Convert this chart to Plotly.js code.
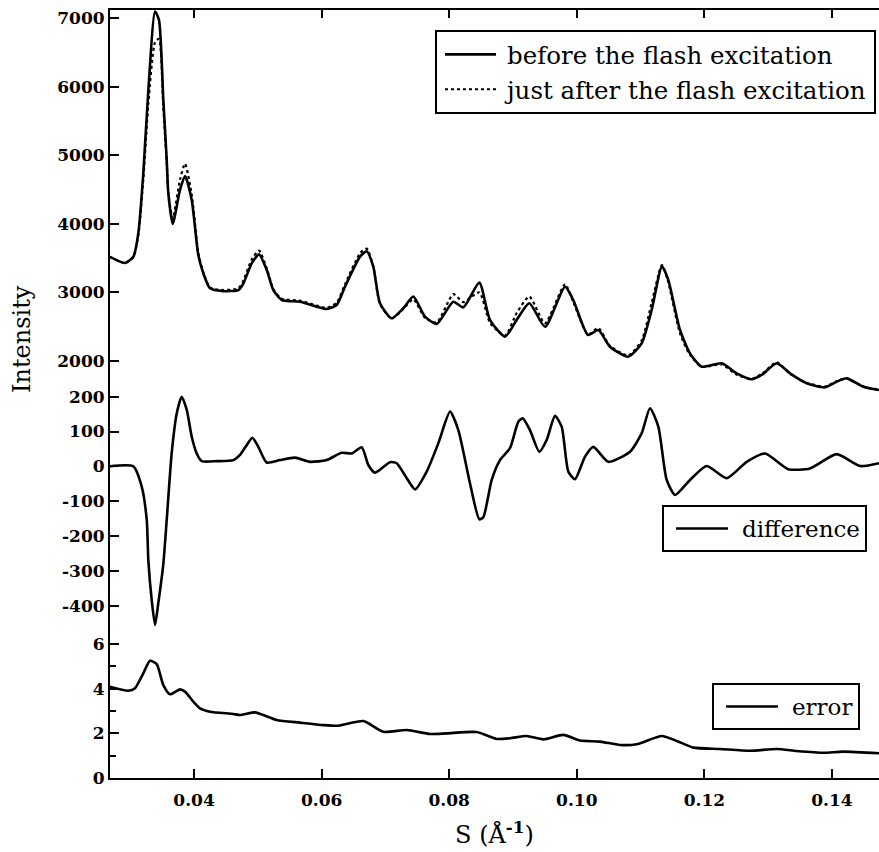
<!DOCTYPE html>
<html>
<head>
<meta charset="utf-8">
<script src="https://cdn.plot.ly/plotly-3.0.1.min.js"></script>
<style>
  html, body { margin: 0; padding: 0; background: #fff; overflow: hidden; }
  #chart { width: 879px; height: 852px; }
</style>
</head>
<body>
<div id="chart"></div>
<script>
// ---------- data ----------
// scattering vector S (1/Å) for the intensity curves
const sIntensity = [0.0268, 0.02918, 0.03049, 0.03127, 0.03205, 0.03284, 0.03389, 0.03451, 0.03519, 0.03572, 0.03597, 0.03666,
  0.03781, 0.03859, 0.03964, 0.04067, 0.04146, 0.04251, 0.04455, 0.04694, 0.04773, 0.04904, 0.05019, 0.05140, 0.05243,
  0.05375, 0.05661, 0.05923, 0.06080, 0.06237, 0.06367, 0.06602, 0.06707, 0.06810, 0.06915, 0.07099, 0.07281, 0.07437,
  0.07621, 0.07804, 0.08064, 0.08221, 0.08472, 0.08639, 0.08875, 0.09058, 0.09256, 0.09502, 0.09815, 0.09945, 0.10176,
  0.10337, 0.10520, 0.10807, 0.11017, 0.11174, 0.11335, 0.11434, 0.11618, 0.11774, 0.11958, 0.12271, 0.12506, 0.12741,
  0.12898, 0.13133, 0.13342, 0.13604, 0.13890, 0.14074, 0.14230, 0.14491, 0.14737];
const intensityBefore = [3520, 3430, 3520, 3865, 4740, 5950, 7100, 6975, 5808, 4930, 4450, 4000,
  4500, 4700, 4350, 3545, 3280, 3060, 3020, 3035, 3130, 3425, 3555, 3328, 3035,
  2890, 2865, 2793, 2758, 2817, 3085, 3522, 3600, 3376, 2842, 2623, 2769, 2940,
  2647, 2540, 2865, 2783, 3143, 2600, 2355, 2600, 2842, 2499, 3085, 2890, 2379,
  2452, 2209, 2063, 2258, 2745, 3380, 3183, 2452, 2111, 1917, 1966, 1820, 1733,
  1796, 1966, 1820, 1675, 1616, 1698, 1747, 1625, 1577];
const intensityAfter = [3520, 3430, 3520, 3840, 4650, 5750, 6650, 6700, 5700, 4900, 4450, 4080,
  4650, 4880, 4430, 3580, 3290, 3070, 3035, 3060, 3170, 3480, 3610, 3350, 3050,
  2910, 2880, 2810, 2775, 2850, 3120, 3570, 3640, 3380, 2830, 2620, 2760, 2900,
  2630, 2560, 2975, 2860, 3000, 2560, 2370, 2700, 2940, 2550, 3120, 2860, 2385,
  2480, 2220, 2080, 2300, 2850, 3400, 3150, 2400, 2090, 1915, 1950, 1800, 1740,
  1810, 1980, 1815, 1680, 1628, 1705, 1745, 1628, 1580];

const sDifference = [0.0268, 0.03049, 0.03180, 0.03259, 0.03284, 0.03337, 0.03389, 0.03440, 0.03519, 0.03572, 0.03650,
  0.03729, 0.03807, 0.03886, 0.03964, 0.04042, 0.04121, 0.04356, 0.04616, 0.04721, 0.04826, 0.04914, 0.05008, 0.05139,
  0.05348, 0.05583, 0.05818, 0.06080, 0.06315, 0.06472, 0.06629, 0.06732, 0.06837, 0.07072, 0.07177, 0.07334, 0.07464,
  0.07647, 0.07829, 0.08013, 0.08143, 0.08326, 0.08472, 0.08535, 0.08666, 0.08796, 0.08953, 0.09083, 0.09152, 0.09266,
  0.09412, 0.09528, 0.09658, 0.09763, 0.09867, 0.09972, 0.10129, 0.10259, 0.10494, 0.10834, 0.11017, 0.11147, 0.11278,
  0.11409, 0.11541, 0.11774, 0.12036, 0.12350, 0.12663, 0.12950, 0.13315, 0.13655, 0.14074, 0.14439, 0.14737];
const difference = [0, 0, -58, -154, -270, -384, -455, -393, -280, -154, 38,
  152, 200, 162, 85, 37, 15, 15, 18, 33, 61, 82, 56, 11,
  18, 25, 13, 18, 39, 37, 55, 4, -18, 12, 9, -34, -66,
  -15, 66, 157, 104, -49, -152, -146, -39, 18, 52, 128, 138, 104,
  42, 76, 145, 114, -15, -37, 28, 56, 13, 42, 95, 167, 114,
  -39, -82, -39, 1, -34, 13, 37, -8, -6, 35, 1, 9];

const sError = [0.0268, 0.02970, 0.03075, 0.03205, 0.03310, 0.03415, 0.03519, 0.03624, 0.03781, 0.03859, 0.03989,
  0.04094, 0.04251, 0.04616, 0.04721, 0.04956, 0.05086, 0.05296, 0.05661, 0.06027, 0.06262, 0.06654, 0.06967,
  0.07334, 0.07699, 0.07961, 0.08431, 0.08745, 0.08953, 0.09215, 0.09475, 0.09788, 0.10050, 0.10364, 0.10677,
  0.10939, 0.11331, 0.11567, 0.11826, 0.12245, 0.12715, 0.13133, 0.13447, 0.13864, 0.14177, 0.14737];
const errorValues = [4.09, 3.91, 4.02, 4.69, 5.25, 5.10, 4.16, 3.75, 3.97, 3.87, 3.42,
  3.12, 2.97, 2.87, 2.82, 2.94, 2.82, 2.60, 2.48, 2.37, 2.34, 2.55, 2.07,
  2.15, 1.97, 2.00, 2.06, 1.75, 1.78, 1.88, 1.73, 1.93, 1.68, 1.63, 1.48,
  1.51, 1.88, 1.66, 1.36, 1.30, 1.22, 1.30, 1.21, 1.13, 1.18, 1.11];

// tick labels
const xTickVals = [0.04, 0.06, 0.08, 0.10, 0.12, 0.14];
const xTickText = ['0.04', '0.06', '0.08', '0.10', '0.12', '0.14'];
const yTopTickVals = [2000, 3000, 4000, 5000, 6000, 7000];
const yTopTickText = ['2000', '3000', '4000', '5000', '6000', '7000'];
const yMidTickVals = [-400, -300, -200, -100, 0, 100, 200];
const yMidTickText = ['-400', '-300', '-200', '-100', '0', '100', '200'];
const yBotTickVals = [0, 2, 4, 6];
const yBotTickText = ['0', '2', '4', '6'];
const yBotMinorTickVals = [1, 3, 5];

const seriesNames = ['before the flash excitation', 'just after the flash excitation', 'difference', 'error'];

// ---------- styling ----------
const SERIF = 'DejaVu Serif, serif';
const tickFont = { family: SERIF, size: 17, color: '#000', weight: 700 };
const xRange = [0.02683, 0.14737];
const topRange = [1533, 7121];
const midRange = [-469.8, 210.6];
const botRange = [0, 6.628];

const lineSmooth = { shape: 'spline', smoothing: 0.6 };

const traces = [
  { x: sIntensity, y: intensityBefore, name: seriesNames[0], type: 'scatter', mode: 'lines',
    xaxis: 'x', yaxis: 'y', legend: 'legend', line: Object.assign({ color: '#000', width: 2.6 }, lineSmooth) },
  { x: sIntensity, y: intensityAfter, name: seriesNames[1], type: 'scatter', mode: 'lines',
    xaxis: 'x', yaxis: 'y', legend: 'legend', line: Object.assign({ color: '#000', width: 2.2, dash: 'dot' }, lineSmooth) },
  { x: sDifference, y: difference, name: seriesNames[2], type: 'scatter', mode: 'lines',
    xaxis: 'x2', yaxis: 'y2', legend: 'legend2', line: Object.assign({ color: '#000', width: 2.6 }, lineSmooth) },
  { x: sError, y: errorValues, name: seriesNames[3], type: 'scatter', mode: 'lines',
    xaxis: 'x3', yaxis: 'y3', legend: 'legend3', line: Object.assign({ color: '#000', width: 2.6 }, lineSmooth) }
];

// labelled y axes carry the inner half of the crossing ticks
const yCommon = {
  showline: true, linecolor: '#000', linewidth: 2, mirror: false,
  ticks: 'inside', ticklen: 9, tickwidth: 2, tickcolor: '#000',
  tickmode: 'array', showgrid: false, zeroline: false, tickfont: tickFont,
  ticklabelstandoff: 0
};
// label-less copy of each y axis: draws the outer half of the crossing ticks
const yOuter = {
  showline: false, ticks: 'outside', ticklen: 5, tickwidth: 2, tickcolor: '#000',
  tickmode: 'array', showticklabels: false, showgrid: false, zeroline: false, side: 'left'
};

const legendCommon = {
  bgcolor: '#fff', bordercolor: '#000', borderwidth: 2,
  xanchor: 'right', yanchor: 'top', xref: 'paper', yref: 'paper',
  tracegroupgap: 0
};

const layout = {
  width: 879, height: 852,
  margin: { l: 110, r: 0, t: 10, b: 74 },
  paper_bgcolor: '#fff', plot_bgcolor: 'rgba(0,0,0,0)',
  font: { family: SERIF, color: '#000' },
  showlegend: true,
  xaxis: {
    anchor: 'y', side: 'top', range: xRange, showline: true, linecolor: '#000', linewidth: 2,
    ticks: 'inside', ticklen: 8, tickwidth: 2, tickcolor: '#000', tickmode: 'array',
    tickvals: xTickVals, showticklabels: false, showgrid: false, zeroline: false
  },
  xaxis2: { anchor: 'y2', range: xRange, visible: false, showgrid: false, zeroline: false },
  xaxis3: {
    anchor: 'y3', side: 'bottom', range: xRange, showline: true, linecolor: '#000', linewidth: 2,
    ticks: 'inside', ticklen: 9, tickwidth: 2, tickcolor: '#000', tickmode: 'array',
    tickvals: xTickVals, ticktext: xTickText, showgrid: false, zeroline: false,
    tickfont: tickFont, ticklabelstandoff: 6,
    title: { text: 'S (Å<sup><b>-1</b></sup>)', font: { family: SERIF, size: 24, color: '#000' }, standoff: 17 }
  },
  yaxis: Object.assign({}, yCommon, {
    domain: [0.5013, 1], range: topRange, anchor: 'x',
    tickvals: yTopTickVals, ticktext: yTopTickText
  }),
  yaxis2: Object.assign({}, yCommon, {
    domain: [0.19271, 0.5013], range: midRange, anchor: 'x2',
    tickvals: yMidTickVals, ticktext: yMidTickText
  }),
  yaxis3: Object.assign({}, yCommon, {
    domain: [0, 0.19271], range: botRange, anchor: 'x3',
    tickvals: yBotTickVals, ticktext: yBotTickText,
    minor: { tickmode: 'array', tickvals: yBotMinorTickVals, ticks: 'inside', ticklen: 6, tickwidth: 2, tickcolor: '#000', showgrid: false }
  }),
  yaxis4: Object.assign({}, yOuter, { overlaying: 'y', anchor: 'x', range: topRange, tickvals: yTopTickVals }),
  yaxis5: Object.assign({}, yOuter, { overlaying: 'y2', anchor: 'x2', range: midRange, tickvals: yMidTickVals }),
  yaxis6: Object.assign({}, yOuter, { overlaying: 'y3', anchor: 'x3', range: botRange, tickvals: yBotTickVals }),
  legend: Object.assign({}, legendCommon, { x: 0.9961, y: 0.974, itemwidth: 60,
    font: { family: SERIF, size: 24.5, color: '#000' } }),
  legend2: Object.assign({}, legendCommon, { x: 0.9844, y: 0.3555, itemwidth: 68,
    font: { family: SERIF, size: 23, color: '#000' } }),
  legend3: Object.assign({}, legendCommon, { x: 0.9753, y: 0.1237, itemwidth: 68,
    font: { family: SERIF, size: 23, color: '#000' } }),
  annotations: [
    { text: 'Intensity', xref: 'paper', yref: 'paper', x: -0.1144, y: 0.5716,
      xanchor: 'center', yanchor: 'middle', textangle: -90, showarrow: false,
      font: { family: SERIF, size: 24, color: '#000' } }
  ]
};

Plotly.newPlot('chart', traces, layout, { displayModeBar: false, staticPlot: true }).then(function () {
  // lengthen the legend line samples to match the original figure
  const samples = { legend: 'M8,0h51', legend2: 'M12,0h52', legend3: 'M12,0h52' };
  Object.keys(samples).forEach(function (id) {
    document.querySelectorAll('g.' + id + ' .legendlines path').forEach(function (p) {
      p.setAttribute('d', samples[id]);
    });
  });
});
</script>
</body>
</html>
